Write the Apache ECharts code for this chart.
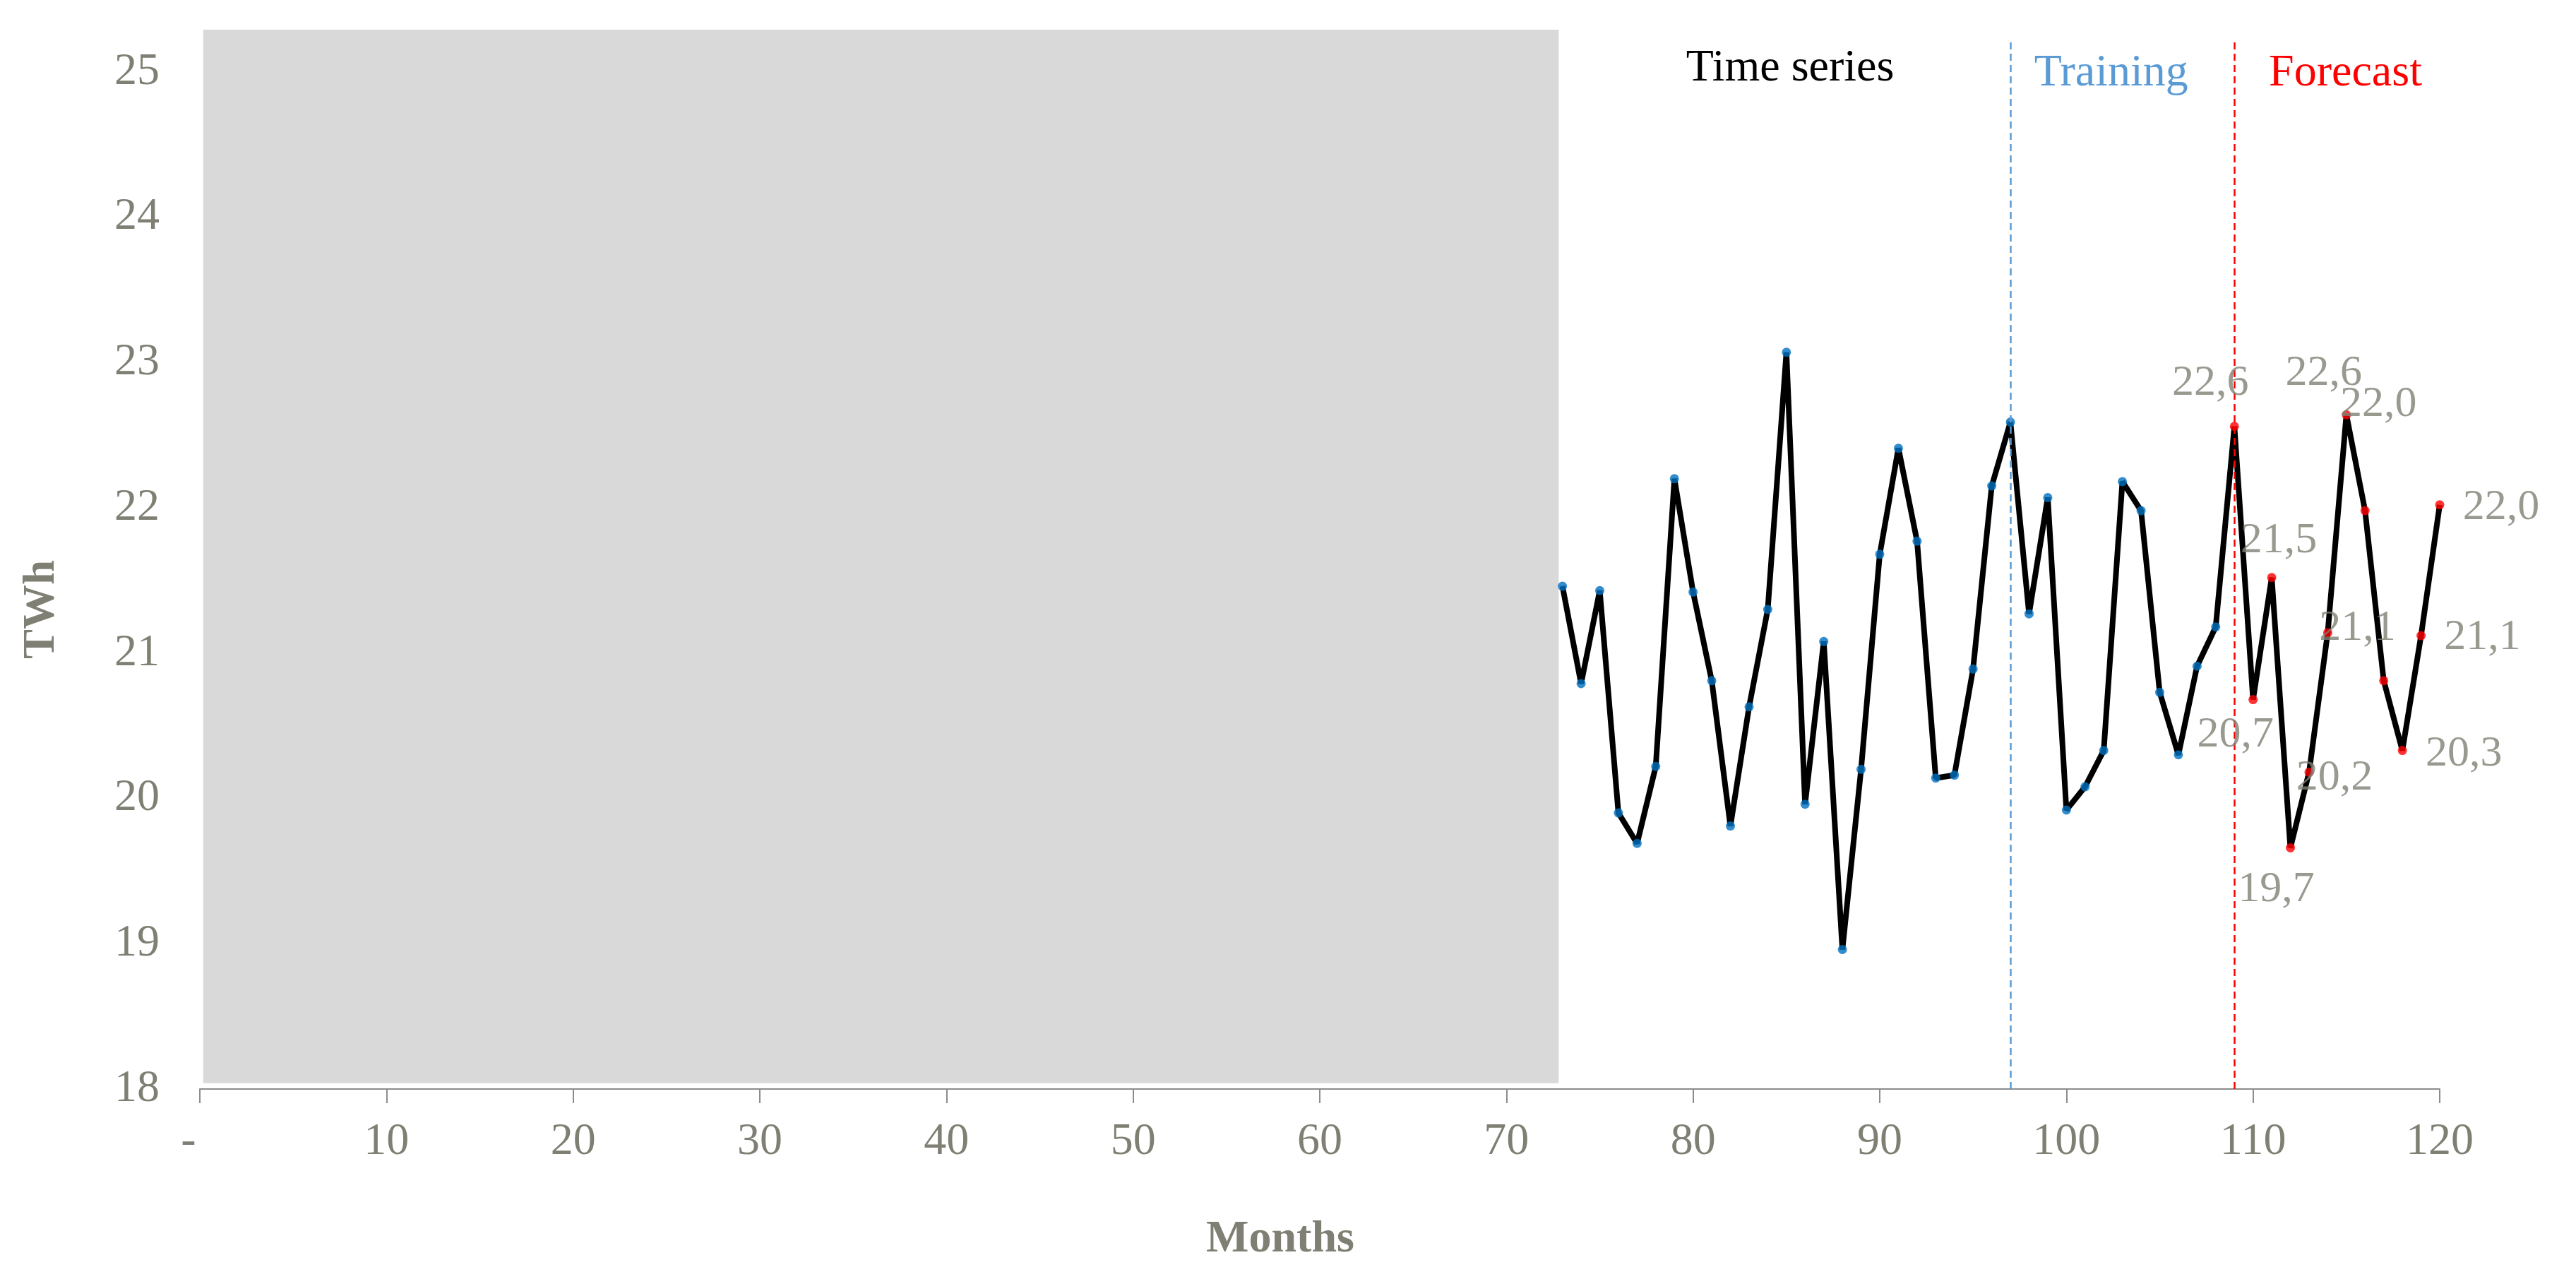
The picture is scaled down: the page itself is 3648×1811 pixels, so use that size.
<!DOCTYPE html>
<html>
<head>
<meta charset="utf-8">
<script src="https://cdn.jsdelivr.net/npm/echarts@6/dist/echarts.min.js"></script>
<style>
  html, body { margin: 0; padding: 0; background: #fff; }
  #chart { width: 3648px; height: 1811px; }
</style>
</head>
<body>
<div id="chart"></div>
<script>
// observed months (blue points)
const histMonths = [73, 74, 75, 76, 77, 78, 79, 80, 81, 82, 83, 84, 85, 86, 87, 88, 89, 90,
  91, 92, 93, 94, 95, 96, 97, 98, 99, 100, 101, 102, 103, 104, 105, 106, 107, 108];
const histValues = [21.46, 20.79, 21.43, 19.90, 19.69, 20.22, 22.20, 21.42, 20.81, 19.81, 20.63, 21.30,
  23.07, 19.96, 21.08, 18.96, 20.20, 21.68, 22.41, 21.77, 20.14, 20.16, 20.89, 22.15,
  22.59, 21.27, 22.07, 19.92, 20.08, 20.33, 22.18, 21.98, 20.73, 20.30, 20.91, 21.18];
// forecast months (red points)
const forecastMonths = [109, 110, 111, 112, 113, 114, 115, 116, 117, 118, 119, 120];
const forecastValues = [22.56, 20.68, 21.52, 19.66, 20.18, 21.14, 22.64, 21.98, 20.81, 20.33, 21.12, 22.02];
const yTicks = [18, 19, 20, 21, 22, 23, 24, 25];

const trainingStart = 97;
const forecastStart = 109;

// label placement for the forecast values (null = no label)
const labelOffsets = [[-34, -61], [-25, 50], [10, -52], [-20, 59], [36, 8], [42, -6],
  [-32, -59], [19, -150], null, [87, 5], [87, 3], [87, 4]];

const grey = '#7f7f74';
const font = 'Liberation Serif';

const chart = echarts.init(document.getElementById('chart'));

const allData = histMonths.map((m, i) => [m, histValues[i]])
  .concat(forecastMonths.map((m, i) => [m, forecastValues[i]]));

const option = {
  backgroundColor: '#fff',
  animation: false,
  grid: { left: 283, right: 193, top: 40, bottom: 269 },
  xAxis: {
    type: 'value',
    min: 0,
    max: 120,
    interval: 10,
    splitLine: { show: false },
    axisLine: { show: true, lineStyle: { color: '#8c8c8c', width: 2 } },
    axisTick: { show: true, length: 20, lineStyle: { color: '#8c8c8c', width: 2 } },
    axisLabel: {
      color: grey, fontFamily: font, fontSize: 64, margin: 43,
      formatter: v => v === 0 ? '-  ' : String(v)
    }
  },
  yAxis: {
    type: 'value',
    min: 18,
    max: 25.3,
    interval: 1,
    splitLine: { show: false },
    axisLine: { show: false },
    axisTick: { show: false },
    axisLabel: {
      color: grey, fontFamily: font, fontSize: 64, margin: 57,
      formatter: v => yTicks.indexOf(v) >= 0 ? String(v) : ''
    }
  },
  graphic: [
    {
      type: 'text', x: 60, y: 863, rotation: Math.PI / 2,
      style: { text: 'TWh', fill: grey, font: 'bold 63px "Liberation Serif"', align: 'center', verticalAlign: 'middle' }
    },
    {
      type: 'text', x: 1813, y: 1755,
      style: { text: 'Months', fill: grey, font: 'bold 64px "Liberation Serif"', align: 'center', verticalAlign: 'middle' }
    }
  ],
  series: [
    {
      type: 'line',
      data: allData,
      showSymbol: false,
      symbol: 'none',
      lineStyle: { color: '#000', width: 8 },
      z: 3,
      markArea: {
        silent: true,
        itemStyle: { color: '#d9d9d9' },
        data: [[{ coord: [0.18, 18.04] }, { coord: [72.8, 25.29] }]]
      },
      markLine: {
        silent: true,
        symbol: ['none', 'none'],
        label: { show: false },
        data: [
          [{ coord: [trainingStart, 18], lineStyle: { color: '#5b9bd5', type: [10, 6], width: 2.5 } },
           { coord: [trainingStart, 25.22] }],
          [{ coord: [forecastStart, 18], lineStyle: { color: '#ff0000', type: [10, 6], width: 2.5 } },
           { coord: [forecastStart, 25.22] }]
        ]
      },
      markPoint: {
        silent: true,
        symbol: 'circle',
        symbolSize: 0,
        data: [
          { coord: [85.2, 25.02], label: { show: true, formatter: 'Time series', color: '#000', fontFamily: font, fontSize: 64, position: 'inside' } },
          { coord: [102.4, 24.99], label: { show: true, formatter: 'Training', color: '#5b9bd5', fontFamily: font, fontSize: 64, position: 'inside' } },
          { coord: [114.95, 24.99], label: { show: true, formatter: 'Forecast', color: '#ff0000', fontFamily: font, fontSize: 64, position: 'inside' } }
        ]
      }
    },
    {
      type: 'scatter',
      data: histMonths.map((m, i) => [m, histValues[i]]),
      symbolSize: 13,
      itemStyle: { color: '#0070c0' },
      z: 4
    },
    {
      type: 'scatter',
      data: forecastMonths.map((m, i) => {
        const off = labelOffsets[i];
        return {
          value: [m, forecastValues[i]],
          label: off ? {
            show: true,
            position: 'inside',
            offset: off,
            formatter: p => p.value[1].toFixed(1).replace('.', ','),
            color: grey,
            fontFamily: font,
            fontSize: 62
          } : { show: false }
        };
      }),
      symbolSize: 13,
      itemStyle: { color: '#ff0000' },
      z: 5
    }
  ]
};

chart.setOption(option);
</script>
</body>
</html>
